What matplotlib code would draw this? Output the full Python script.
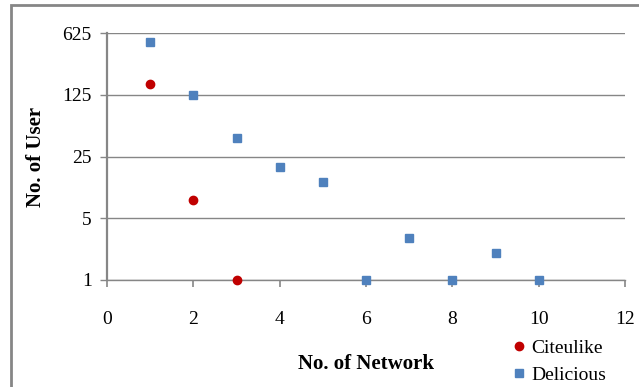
import matplotlib.pyplot as plt
from matplotlib.patches import Rectangle

# data
network = [1, 2, 3, 4, 5, 6, 7, 8, 9, 10]
delicious = [500, 125, 40, 19, 13, 1, 3, 1, 2, 1]
cite_x = [1, 2, 3]
citeulike = [165, 8, 1]
y_ticks = [1, 5, 25, 125, 625]
x_ticks = [0, 2, 4, 6, 8, 10, 12]

plt.rcParams['font.family'] = ['Liberation Serif', 'DejaVu Serif']
grey = '#868686'

fig = plt.figure(figsize=(6.39, 3.87), dpi=100)
W, H = 639, 387
ax = fig.add_axes([107 / W, 1 - 280 / H, (625 - 107) / W, (280 - 33) / H])

ax.plot(cite_x, citeulike, 'o', color='#C00000', markersize=6, label='Citeulike', clip_on=False, zorder=3)
ax.plot(network, delicious, 's', color='#4F81BD', markersize=5.8, label='Delicious', clip_on=False, zorder=3)

ax.set_yscale('log', base=5)
ax.set_ylim(1, 625)
ax.set_xlim(0, 12)
ax.set_yticks(y_ticks)
ax.set_yticklabels([str(v) for v in y_ticks])
ax.minorticks_off()
ax.set_xticks(x_ticks)

ax.yaxis.grid(True, color=grey, linewidth=1.0)
ax.set_axisbelow(True)
for s in ['top', 'right']:
    ax.spines[s].set_visible(False)
ax.spines['left'].set_color(grey)
ax.spines['left'].set_linewidth(1.6)
ax.spines['bottom'].set_color(grey)
ax.spines['bottom'].set_linewidth(1.0)
ax.tick_params(axis='y', length=5, width=1.0, color=grey, pad=6, labelsize=14)
ax.tick_params(axis='x', length=5, width=1.2, color=grey, pad=17, labelsize=14)

ax.set_xlabel('No. of Network', fontsize=15, fontweight='bold', labelpad=19)
ax.set_ylabel('No. of User', fontsize=15, fontweight='bold')
ax.yaxis.set_label_coords(-(107 - 46) / 518, 0.5)

ax.legend(loc='upper left', bbox_to_anchor=(513 / W, 1 - 339 / H), bbox_transform=fig.transFigure,
          frameon=False, fontsize=14, handlelength=0.6, handletextpad=0.35, labelspacing=0.5,
          borderpad=0, borderaxespad=0)

# outer chart border
fig.patches.append(Rectangle((11 / W, -0.1), 1.2, 1 - 5 / H + 0.1, transform=fig.transFigure,
                             fill=False, edgecolor=grey, linewidth=2))

fig.savefig('out.png', dpi=100)
